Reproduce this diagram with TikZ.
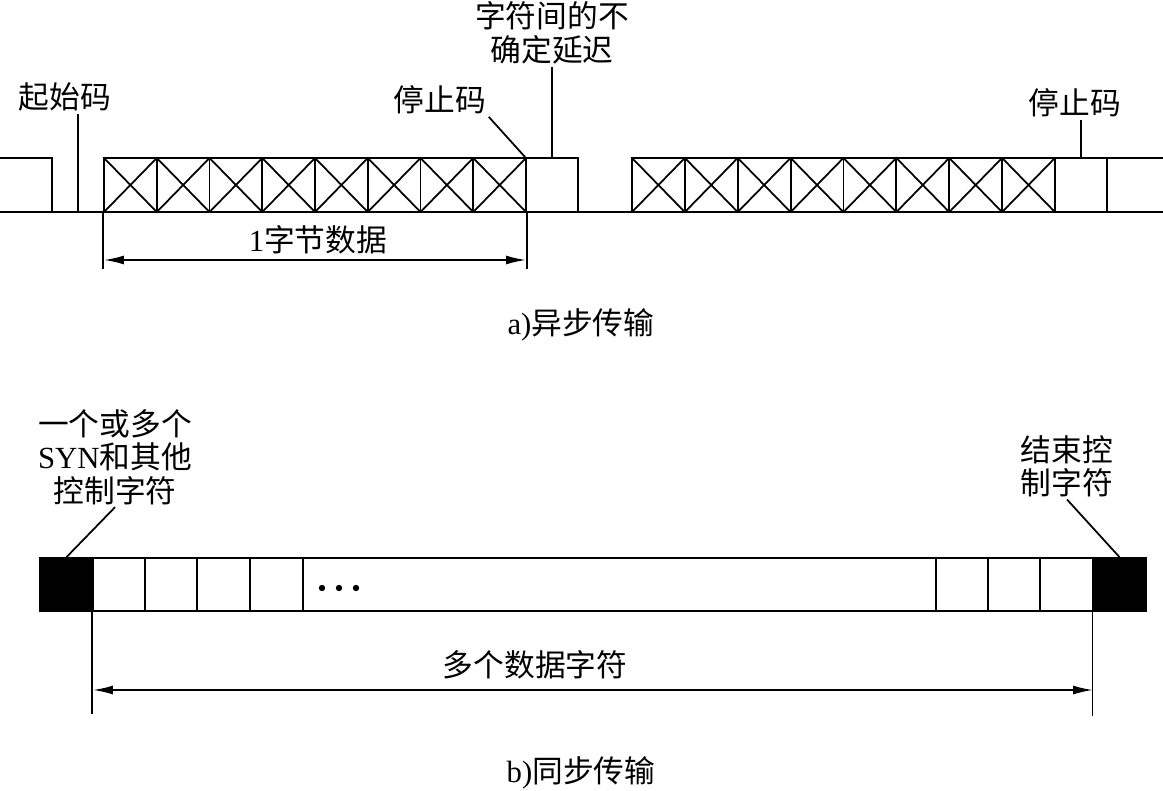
\documentclass[tikz,border=0pt]{standalone}
\usepackage{fontspec}
\setmainfont{Liberation Serif}
\newfontfamily\cjk{Noto Sans CJK SC}
\usetikzlibrary{arrows.meta, positioning}
\newcommand{\zh}[1]{{\cjk #1}}

\begin{document}
\begin{tikzpicture}[x=0.02cm, y=-0.02cm, line width=1pt, font=\fontsize{17.5}{19}\selectfont, >=Latex]
  % Styles
  \tikzset{
    xcell/.style={draw, minimum width=1.055cm, minimum height=1.08cm, inner sep=0pt,
      path picture={\draw (path picture bounding box.north west) -- (path picture bounding box.south east)
                          (path picture bounding box.south west) -- (path picture bounding box.north east);}},
    bitbox/.style={draw, minimum width=1.04cm, minimum height=1.08cm, inner sep=0pt},
    wcell/.style={draw, minimum width=1.05cm, minimum height=1.06cm, inner sep=0pt},
    blk/.style={wcell, fill=black},
    lbl/.style={align=center, inner sep=1pt},
    dim/.style={{Latex[length=4mm,width=1.8mm]}-{Latex[length=4mm,width=1.8mm]}}
  }
  \useasboundingbox (0,0) rectangle (1163,791);

  % a) asynchronous
  \draw (0,158) -- (52,158) -- (52,212);
  \draw (0,212) -- (1163,212);
  \foreach \i in {0,...,7}
    \node[xcell] (a\i) at ({130.4+52.75*\i},185) {};
  \node[bitbox] (stop1) at (552,185) {};
  \foreach \i in {0,...,7}
    \node[xcell] (c\i) at ({658.4+52.875*\i},185) {};
  \node[bitbox] (stop2) at (1081,185) {};
  \draw (1107,212) -- (1107,158) -- (1163,158);

  \node[lbl] (startlbl) at (65,97) {\zh{起始码}};
  \node[lbl] (stoplblA) at (440,100) {\zh{停止码}};
  \node[lbl] (delaylbl) at (552,33) {\zh{字符间的不}\\\zh{确定延迟}};
  \node[lbl] (stoplblB) at (1075,103) {\zh{停止码}};
  \coordinate (startbit) at (78,212);
  \draw (startbit) -- (startbit |- startlbl.south);
  \draw (stoplblA.south east) -- (stop1.north west);
  \draw (stop1.north) -- (delaylbl.south);
  \draw (stop2.north) -- (stop2.north |- stoplblB.south);

  \draw (a0.south west) -- ++(0,56);
  \draw (a7.south east) -- ++(0,56);
  \coordinate (dal) at (104,260);
  \coordinate (dar) at (526,260);
  \draw[dim] (dal) -- (dar);
  \node[lbl] (bytelbl) at (318,240) {1\zh{字节数据}};
  \node[lbl] (capA) at (581,325) {a)\zh{异步传输}};

  % b) synchronous
  \node[blk] (blkL) at (66.5,584.5) {};
  \foreach \x [count=\i] in {119,171,223.5,276.5}
    \node[wcell] (b\i) at (\x,584.5) {};
  \node[wcell, minimum width=12.66cm] (bmid) at (619.5,584.5) {};
  \foreach \x [count=\i] in {962,1014,1066.5}
    \node[wcell] (e\i) at (\x,584.5) {};
  \node[blk] (blkR) at (1119.5,584.5) {};
  \foreach \x in {322,339,356}
    \fill (\x,588) circle (3.2);

  \node[lbl] (synlbl) at (115,457) {\zh{一个或多个}\\SYN\zh{和其他}\\\zh{控制字符}};
  \node[lbl] (endlbl) at (1067,466) {\zh{结束控}\\\zh{制字符}};
  \draw (synlbl.south) -- (blkL.north);
  \draw (endlbl.south) -- (blkR.north);

  \draw (b1.south west) -- ++(0,102);
  \draw (blkR.south west) -- ++(0,104);
  \coordinate (dbl) at (93,690);
  \coordinate (dbr) at (1093,690);
  \draw[dim] (dbl) -- (dbr);
  \node[lbl] (datalbl) at (535,665) {\zh{多个数据字符}};
  \node[lbl] (capB) at (581,773) {b)\zh{同步传输}};
\end{tikzpicture}
\end{document}
